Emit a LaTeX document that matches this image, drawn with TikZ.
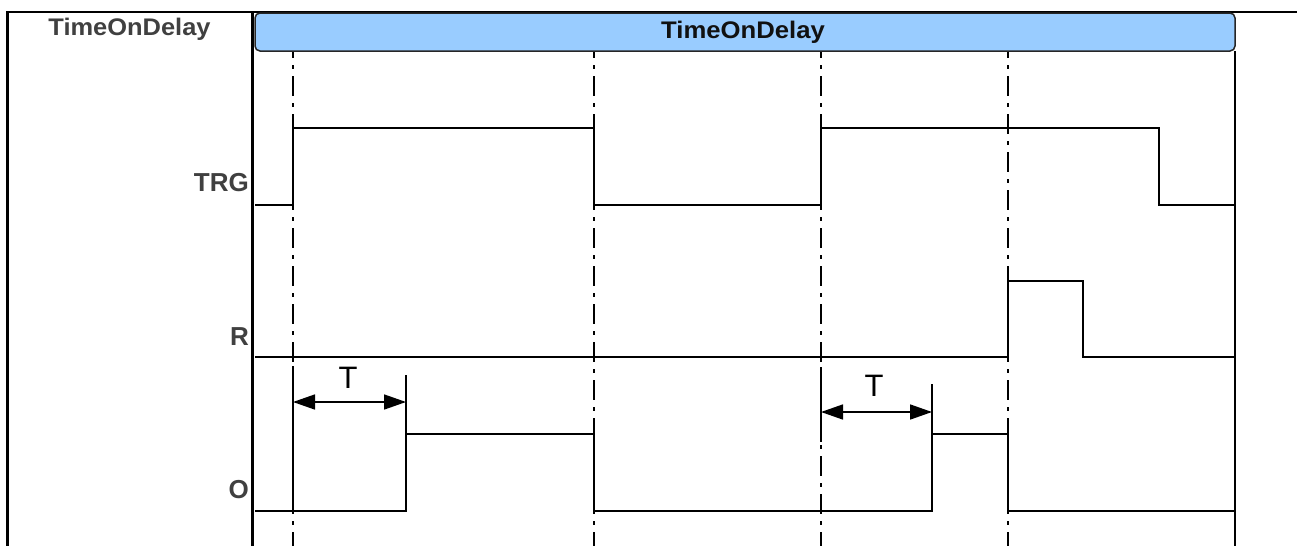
\documentclass[tikz,border=0pt]{standalone}
\usepackage{fontspec}
\setmainfont{Liberation Sans}
\usetikzlibrary{arrows.meta}
\definecolor{hdrfill}{HTML}{99CCFF}
\definecolor{lblgray}{HTML}{404040}
\definecolor{hdrtext}{HTML}{111111}
\begin{document}
\begin{tikzpicture}[x=1pt,y=-1pt,
  sig/.style={line width=1.6pt, black, line join=miter},
  gridline/.style={line width=1.5pt, black, dash pattern=on 20pt off 7pt on 4pt off 7pt, dash phase=14pt},
  frame/.style={black, line width=2.2pt},
  lbl/.style={font=\fontsize{26}{26}\selectfont\bfseries, text=lblgray, inner sep=0pt},
  tlabel/.style={font=\fontsize{31}{31}\selectfont, text=black, inner sep=0pt, anchor=base},
  dimarrow/.style={line width=1.6pt, black, {Triangle[length=22pt,width=15pt]}-{Triangle[length=22pt,width=15pt]}},
  tick/.style={line width=1.6pt, black}
]
\useasboundingbox (0,0) rectangle (1297,546);

% frame
\draw[frame] (7.5,12) -- (1297,12);
\draw[frame] (7.5,11) -- (7.5,546);
\draw[black, line width=3.8pt] (252.5,11) -- (252.5,546);

% header
\draw[fill=hdrfill, draw=black!85, line width=1.5pt, rounded corners=5pt] (255,13) rectangle (1235,51);
\node[anchor=base, font=\fontsize{24}{24}\selectfont\bfseries, text=hdrtext, inner sep=0pt] (hdr) at (743,38) {\scalebox{1.07}[1]{TimeOnDelay}};
\node[anchor=base, font=\fontsize{24}{24}\selectfont\bfseries, text=lblgray, inner sep=0pt] (title) at (129.5,35) {\scalebox{1.06}[1]{TimeOnDelay}};

% right border
\draw[line width=2pt, black] (1235,51) -- (1235,546);

% dash-dot time markers
\foreach \x/\n in {293/a,594/b,821/c,1008/d}{
  \coordinate (top\n) at (\x,52);
  \coordinate (bot\n) at (\x,546);
  \draw[gridline] (top\n) -- (bot\n);
}

% signal labels
\node[lbl, anchor=base east] (trg) at (249,191) {TRG};
\node[lbl, anchor=base east] (r) at (249,345) {R};
\node[lbl, anchor=base east] (o) at (249,498) {O};

% TRG
\draw[sig] (255,205) -- (293,205) -- (293,128) -- (594,128) -- (594,205) -- (821,205) -- (821,128) -- (1159,128) -- (1159,205) -- (1235,205);
% R
\draw[sig] (255,357) -- (1008,357) -- (1008,281) -- (1083,281) -- (1083,357) -- (1235,357);
% O
\draw[sig] (255,511) -- (406,511) -- (406,434) -- (594,434) -- (594,511) -- (932,511) -- (932,434) -- (1008,434) -- (1008,511) -- (1235,511);

% delay dimension 1
\coordinate (t1a) at (293,366);
\coordinate (t1b) at (293,511);
\coordinate (t1c) at (406,375);
\coordinate (t1d) at (406,434);
\draw[tick] (t1a) -- (t1b);
\draw[tick] (t1c) -- (t1d);
\coordinate (a1l) at (293,402);
\coordinate (a1r) at (406,402);
\draw[dimarrow] (a1l) -- (a1r);
\node[tlabel] (T1) at (348,388) {T};

% delay dimension 2
\coordinate (t2a) at (821,367);
\coordinate (t2b) at (821,442);
\coordinate (t2c) at (932,384);
\coordinate (t2d) at (932,434);
\draw[tick] (t2a) -- (t2b);
\draw[tick] (t2c) -- (t2d);
\coordinate (a2l) at (821,412);
\coordinate (a2r) at (932,412);
\draw[dimarrow] (a2l) -- (a2r);
\node[tlabel] (T2) at (874,396) {T};
\end{tikzpicture}
\end{document}
